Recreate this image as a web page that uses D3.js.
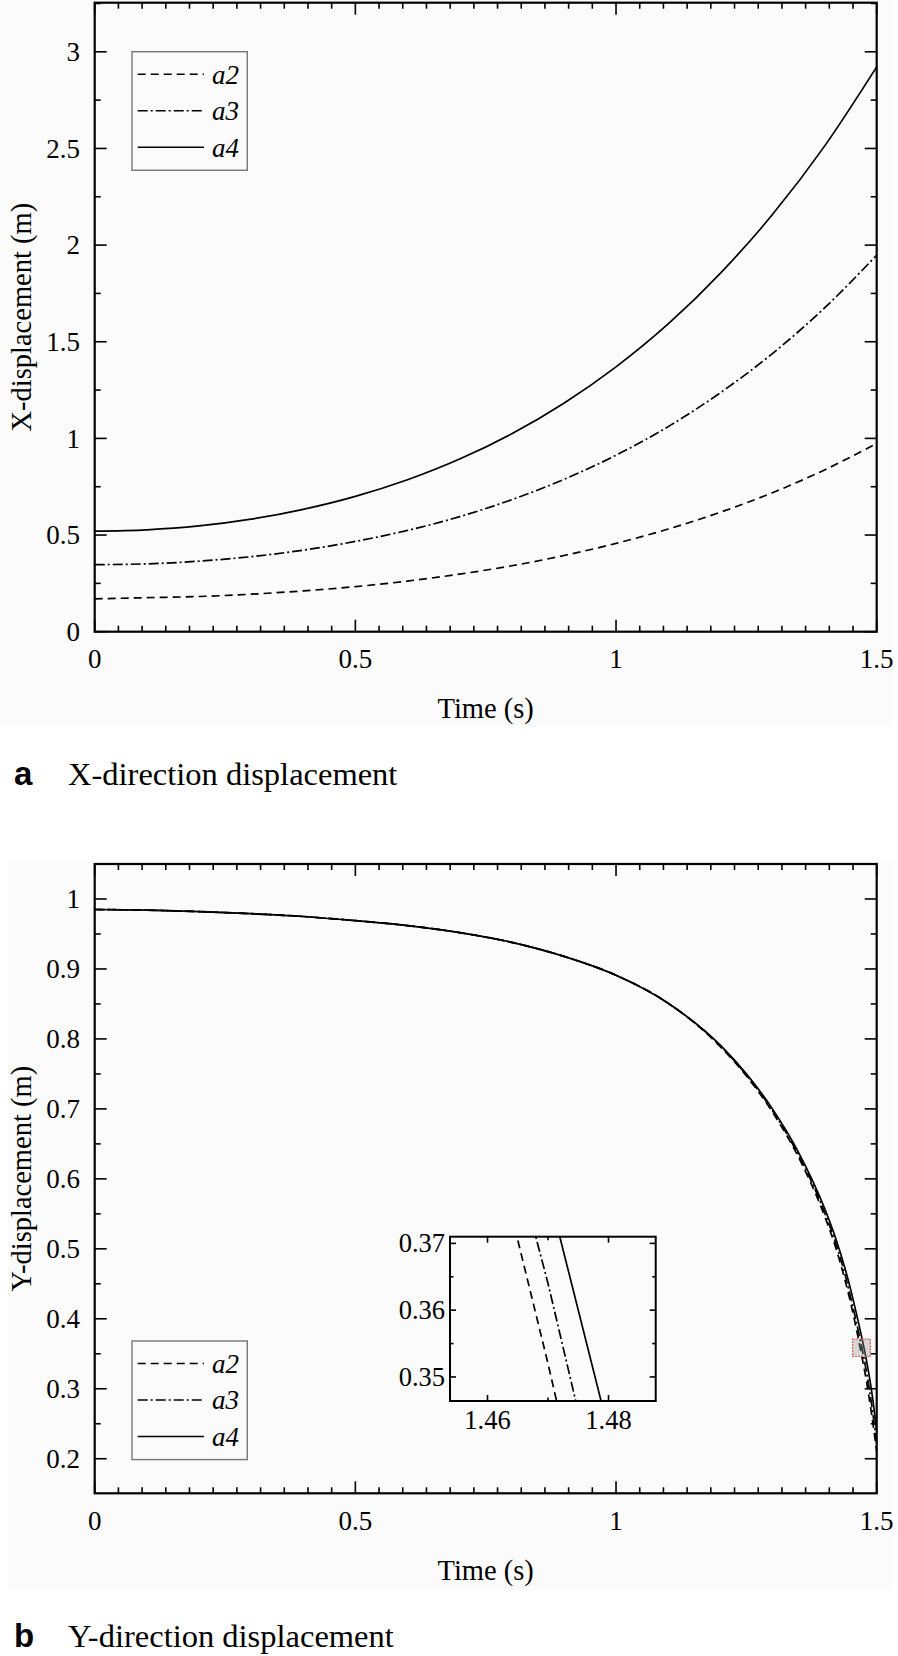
<!DOCTYPE html>
<html><head><meta charset="utf-8">
<script src="https://cdn.jsdelivr.net/npm/d3@7"></script>
<style>
html,body{margin:0;padding:0;background:#fff;}
svg{display:block;}
</style></head>
<body>
<svg id="chart" width="898" height="1656"></svg>
<script>
// ---------- DATA ----------
const seriesNames = ["a2", "a3", "a4"];
// (a) X-direction displacement
const tX  = [0, 0.1, 0.2, 0.3, 0.4, 0.5, 0.6, 0.7, 0.8, 0.9, 1.0, 1.1, 1.2, 1.3, 1.4, 1.5];
const xA2 = [0.170, 0.176, 0.182, 0.194, 0.211, 0.233, 0.262, 0.298, 0.341, 0.394, 0.457, 0.531, 0.618, 0.719, 0.837, 0.974];
const xA3 = [0.347, 0.351, 0.365, 0.388, 0.422, 0.467, 0.524, 0.595, 0.683, 0.788, 0.913, 1.061, 1.236, 1.439, 1.675, 1.948];
const xA4 = [0.520, 0.527, 0.547, 0.582, 0.633, 0.700, 0.786, 0.893, 1.024, 1.182, 1.370, 1.592, 1.854, 2.158, 2.512, 2.922];
// (b) Y-direction displacement
const tY  = [0, 0.1, 0.2, 0.3, 0.4, 0.5, 0.6, 0.7, 0.8, 0.9, 1.0, 1.1, 1.2, 1.25, 1.3, 1.35, 1.4, 1.42, 1.44, 1.45, 1.46, 1.47, 1.48, 1.49, 1.5];
const yA2 = [0.985, 0.984, 0.982, 0.979, 0.975, 0.969, 0.962, 0.952, 0.938, 0.918, 0.891, 0.851, 0.789, 0.747, 0.6955, 0.631, 0.547, 0.505, 0.453, 0.423, 0.389, 0.352, 0.3125, 0.265, 0.210];
const yA3 = [0.985, 0.984, 0.982, 0.979, 0.975, 0.969, 0.962, 0.952, 0.938, 0.918, 0.891, 0.851, 0.790, 0.7485, 0.6975, 0.634, 0.552, 0.511, 0.461, 0.431, 0.3985, 0.364, 0.3256, 0.279, 0.222];
const yA4 = [0.985, 0.984, 0.982, 0.979, 0.975, 0.969, 0.962, 0.952, 0.938, 0.918, 0.891, 0.851, 0.791, 0.750, 0.700, 0.638, 0.558, 0.518, 0.470, 0.442, 0.411, 0.378, 0.342, 0.298, 0.240];
// axis ticks
const timeTicks   = [0, 0.5, 1, 1.5];
const xDispTicks  = [0, 0.5, 1, 1.5, 2, 2.5, 3];
const yDispTicks  = [0.2, 0.3, 0.4, 0.5, 0.6, 0.7, 0.8, 0.9, 1];
const insetTTicks = [1.46, 1.48];
const insetYTicks = [0.35, 0.36, 0.37];
const panelLabels = ["a", "b"];
const panelTitles = ["X-direction displacement", "Y-direction displacement"];

// ---------- STYLE ----------
const SERIF = "'Liberation Serif','Times New Roman',serif";
const SANS = "'Liberation Sans',Arial,sans-serif";
const dashes = {a2: "8,5", a3: "10,3,2,3", a4: null};
const BG = "#fbfbfb";

const svg = d3.select("#chart");
const L = 94.7, R = 876.7;

// faint paper background
svg.append("rect").attr("x", 0).attr("y", 0).attr("width", 893).attr("height", 726).attr("fill", BG);
svg.append("rect").attr("x", 8).attr("y", 860).attr("width", 885).attr("height", 730).attr("fill", BG);

function fmt(d){ return String(+d.toFixed(3)); }

function drawFrame(g, x, y, xMajor, xMinor, yMajor, yMinor, majLen, minLen, sw){
  const [x0, x1] = x.range(), [y0, y1] = y.range(); // y0 bottom, y1 top
  const t = g.append("g").attr("stroke", "#000").attr("stroke-width", 1.6);
  xMajor.forEach(v => {
    t.append("line").attr("x1", x(v)).attr("x2", x(v)).attr("y1", y0).attr("y2", y0 - majLen);
    t.append("line").attr("x1", x(v)).attr("x2", x(v)).attr("y1", y1).attr("y2", y1 + majLen);
  });
  xMinor.forEach(v => {
    t.append("line").attr("x1", x(v)).attr("x2", x(v)).attr("y1", y0).attr("y2", y0 - minLen);
    t.append("line").attr("x1", x(v)).attr("x2", x(v)).attr("y1", y1).attr("y2", y1 + minLen);
  });
  yMajor.forEach(v => {
    t.append("line").attr("x1", x0).attr("x2", x0 + majLen).attr("y1", y(v)).attr("y2", y(v));
    t.append("line").attr("x1", x1).attr("x2", x1 - majLen).attr("y1", y(v)).attr("y2", y(v));
  });
  yMinor.forEach(v => {
    t.append("line").attr("x1", x0).attr("x2", x0 + minLen).attr("y1", y(v)).attr("y2", y(v));
    t.append("line").attr("x1", x1).attr("x2", x1 - minLen).attr("y1", y(v)).attr("y2", y(v));
  });
  g.append("rect").attr("x", x0).attr("y", y1).attr("width", x1 - x0).attr("height", y0 - y1)
    .attr("fill", "none").attr("stroke", "#000").attr("stroke-width", sw);
}

function timeMinor(){
  const out = [];
  for (let k = 0; k < 3; k++) for (let j = 1; j <= 10; j++) out.push(k * 0.5 + j * 0.5 / 11);
  return out;
}

function drawLegend(g, x0, y0){
  const w = 115.3, h = 118.6;
  g.append("rect").attr("x", x0).attr("y", y0).attr("width", w).attr("height", h)
    .attr("fill", "none").attr("stroke", "#777").attr("stroke-width", 1.4);
  seriesNames.forEach((s, i) => {
    const yy = y0 + 22.5 + i * 36.5;
    const ln = g.append("line").attr("x1", x0 + 5.7).attr("x2", x0 + 72).attr("y1", yy).attr("y2", yy)
      .attr("stroke", "#000").attr("stroke-width", 1.6);
    if (dashes[s]) ln.attr("stroke-dasharray", dashes[s]);
    g.append("text").attr("x", x0 + 80).attr("y", yy + 9.3).text(s)
      .attr("font-family", SERIF).attr("font-style", "italic").attr("font-size", 27).attr("fill", "#000");
  });
}

function drawPanel(idx, top, bottom, yDomain, yMajor, yStep, tArr, series, yTitle, legendY){
  const g = svg.append("g");
  const x = d3.scaleLinear().domain([0, 1.5]).range([L, R]);
  const y = d3.scaleLinear().domain(yDomain).range([bottom, top]);
  const yMinor = d3.range(yMajor[0] - yStep/2, yDomain[1] + 1e-9, yStep).filter(v => v > yDomain[0] && !yMajor.some(m => Math.abs(m - v) < 1e-9));
  const line = d3.line().x(d => x(d[0])).y(d => y(d[1])).curve(d3.curveMonotoneX);
  seriesNames.forEach((s, i) => {
    const p = g.append("path").datum(tArr.map((t, k) => [t, series[i][k]]))
      .attr("d", line).attr("fill", "none").attr("stroke", "#000").attr("stroke-width", 1.7);
    if (dashes[s]) p.attr("stroke-dasharray", dashes[s]);
  });
  drawFrame(g, x, y, timeTicks, timeMinor(), yMajor, yMinor, 12, 6, 2.2);
  // tick labels
  timeTicks.forEach(v => g.append("text").attr("x", x(v)).attr("y", bottom + 36.5).attr("text-anchor", "middle")
    .attr("font-family", SERIF).attr("font-size", 27).text(fmt(v)));
  yMajor.forEach(v => g.append("text").attr("x", 80).attr("y", y(v)).attr("dy", "0.34em").attr("text-anchor", "end")
    .attr("font-family", SERIF).attr("font-size", 27).text(fmt(v)));
  // axis titles
  g.append("text").attr("x", (L + R) / 2).attr("y", bottom + 86.5).attr("text-anchor", "middle")
    .attr("font-family", SERIF).attr("font-size", 28.5).text("Time (s)");
  g.append("text").attr("transform", `translate(31,${(top + bottom) / 2}) rotate(-90)`).attr("text-anchor", "middle")
    .attr("font-family", SERIF).attr("font-size", 28.5).text(yTitle);
  // caption
  g.append("text").attr("x", 14).attr("y", bottom + 153.5).attr("font-family", SANS).attr("font-weight", "bold")
    .attr("font-size", 33).text(panelLabels[idx]);
  g.append("text").attr("x", 68).attr("y", bottom + 153.5).attr("font-family", SERIF)
    .attr("font-size", 32.5).text(panelTitles[idx]);
  drawLegend(g, 132, legendY);
  return {g, x, y, line};
}

drawPanel(0, 2.7, 631.7, [0, 3.254], xDispTicks, 0.5, tX, [xA2, xA3, xA4], "X-displacement (m)", 51.7);
const pb = drawPanel(1, 864, 1493.3, [0.1506, 1.05], yDispTicks, 0.1, tY, [yA2, yA3, yA4], "Y-displacement (m)", 1341);

// ---------- INSET ----------
const insetTD = [1.4538, 1.4878], insetYD = [0.3464, 0.371];
// highlight box on main plot
svg.append("rect").attr("x", pb.x(insetTD[0])).attr("y", pb.y(insetYD[1]))
  .attr("width", pb.x(insetTD[1]) - pb.x(insetTD[0])).attr("height", pb.y(insetYD[0]) - pb.y(insetYD[1]))
  .attr("fill", "rgba(150,150,150,0.35)").attr("stroke", "#d66").attr("stroke-width", 1.3).attr("stroke-dasharray", "2,1");

const ig = svg.append("g");
const ix = d3.scaleLinear().domain(insetTD).range([450, 655.7]);
const iy = d3.scaleLinear().domain(insetYD).range([1401, 1236.7]);
ig.append("rect").attr("x", 450).attr("y", 1236.7).attr("width", 205.7).attr("height", 164.3).attr("fill", BG);
ig.append("clipPath").attr("id", "iclip").append("rect").attr("x", 450).attr("y", 1236.7).attr("width", 205.7).attr("height", 164.3);
const iline = d3.line().x(d => ix(d[0])).y(d => iy(d[1]));
seriesNames.forEach((s, i) => {
  const arr = [yA2, yA3, yA4][i];
  const p = ig.append("path").datum(tY.map((t, k) => [t, arr[k]]).filter(d => d[0] >= 1.44 && d[0] <= 1.5))
    .attr("d", iline).attr("clip-path", "url(#iclip)").attr("fill", "none").attr("stroke", "#000").attr("stroke-width", 1.7);
  if (dashes[s]) p.attr("stroke-dasharray", dashes[s]);
});
drawFrame(ig, ix, iy, insetTTicks, [1.47], insetYTicks, [0.355, 0.365], 6, 3.5, 2);
insetTTicks.forEach(v => ig.append("text").attr("x", ix(v)).attr("y", 1428.5).attr("text-anchor", "middle")
  .attr("font-family", SERIF).attr("font-size", 26.5).text(fmt(v)));
insetYTicks.forEach(v => ig.append("text").attr("x", 445).attr("y", iy(v)).attr("dy", "0.34em").attr("text-anchor", "end")
  .attr("font-family", SERIF).attr("font-size", 26.5).text(fmt(v)));
</script>
</body></html>
